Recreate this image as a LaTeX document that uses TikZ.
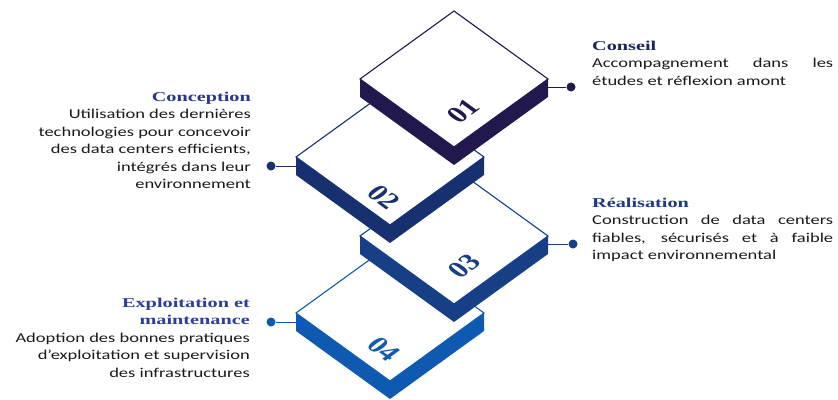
\documentclass[tikz,border=0pt]{standalone}
\usepackage{fontspec}
\setmainfont{Carlito}
\newfontfamily\bodyfont[FakeStretch=1.37]{Carlito}
\newfontfamily\titlefont[FakeStretch=1.5]{Liberation Serif}
\newfontfamily\numfont{Liberation Serif}
\setlength\parindent{0pt}
\definecolor{cA}{HTML}{21194D}
\definecolor{cB}{HTML}{17306F}
\definecolor{cC}{HTML}{163F86}
\definecolor{cD}{HTML}{0F5AB1}
\definecolor{tA}{HTML}{1C2460}
\definecolor{tB}{HTML}{27388C}
\definecolor{tC}{HTML}{1E3A84}
\definecolor{tD}{HTML}{2C3E9C}
\definecolor{body}{HTML}{1A1A1A}
\newcommand\isobox[4]{%
  \coordinate (#1-t) at (#2,#3-68);
  \coordinate (#1-r) at (#2+94,#3);
  \coordinate (#1-b) at (#2,#3+68);
  \coordinate (#1-l) at (#2-94,#3);
  \coordinate (#1-rr) at (#2+94,#3+18);
  \coordinate (#1-bb) at (#2,#3+86);
  \coordinate (#1-ll) at (#2-94,#3+18);
  \coordinate (#1-rm) at (#2+94,#3+8);
  \coordinate (#1-lm) at (#2-94,#3+9);
  \fill[#4] (#1-l) -- (#1-b) -- (#1-r) -- (#1-rr) -- (#1-bb) -- (#1-ll) -- cycle;
  \draw[facestyle, draw=#4] (#1-t) -- (#1-r) -- (#1-b) -- (#1-l) -- cycle;
}
\begin{document}
\begin{tikzpicture}[x=1pt,y=-1pt,
  facestyle/.style={fill=white, line width=1.1pt, line join=miter},
  numstyle/.style={font=\fontsize{23}{23}\selectfont\numfont\bfseries, inner sep=0pt},
  dot/.style={circle, inner sep=0pt, minimum size=9pt},
  conn/.style={line width=1pt},
  txt/.style={inner sep=0pt, text=body, font=\fontsize{13.5}{17.5}\selectfont\bodyfont}
]
\useasboundingbox (0,0) rectangle (838,399);
\fill[white] (0,0) rectangle (838,399);

\isobox{b4}{390}{313}{cD}
\isobox{b3}{454}{236}{cC}
\isobox{b2}{390}{157}{cB}
\isobox{b1}{454}{79}{cA}

\node[numstyle, text=cA, cm={0.969,0.707,-0.969,0.707,(0,0)}] (n1) at (463,111) {01};
\node[numstyle, text=cB, cm={0.969,-0.707,0.969,0.707,(0,0)}] (n2) at (384,197) {02};
\node[numstyle, text=cC, cm={0.969,0.707,-0.969,0.707,(0,0)}] (n3) at (464,266) {03};
\node[numstyle, text=cD, cm={0.969,-0.707,0.969,0.707,(0,0)}] (n4) at (384,349) {04};

\node[dot, fill=cA] (d1) at (571,87) {};
\node[dot, fill=cB] (d2) at (271,166) {};
\node[dot, fill=cC] (d3) at (573,244) {};
\node[dot, fill=cD] (d4) at (271,322) {};
\draw[conn, cA] (b1-rm) -- (d1);
\draw[conn, cB] (b2-lm) -- (d2);
\draw[conn, cC] (b3-rm) -- (d3);
\draw[conn, cD] (b4-lm) -- (d4);

\node[txt, anchor=north west, text width=241pt, align=justify] (t1) at (592,37.75)
  {\strut{\titlefont\bfseries\color{tA}Conseil}\par
   Accompagnement dans les\linebreak études et réflexion amont};
\node[txt, anchor=north west, text width=241pt, align=justify] (t3) at (592,194.75)
  {\strut{\titlefont\bfseries\color{tC}Réalisation}\par
   Construction de data centers\linebreak fiables, sécurisés et à faible\linebreak impact environnemental};
\node[txt, anchor=north east, align=right] (t2) at (251,88.75)
  {\strut\textcolor{tB}{\titlefont\bfseries Conception}\\
   Utilisation des dernières\\ technologies pour concevoir\\ des data centers efficients,\\ intégrés dans leur\\ environnement};
\node[txt, anchor=north east, align=right] (t4) at (250,294.75)
  {\strut\textcolor{tD}{\titlefont\bfseries Exploitation et}\\
   \textcolor{tD}{\titlefont\bfseries maintenance}\\
   Adoption des bonnes pratiques\\ d’exploitation et supervision\\ des infrastructures};
\end{tikzpicture}
\end{document}
